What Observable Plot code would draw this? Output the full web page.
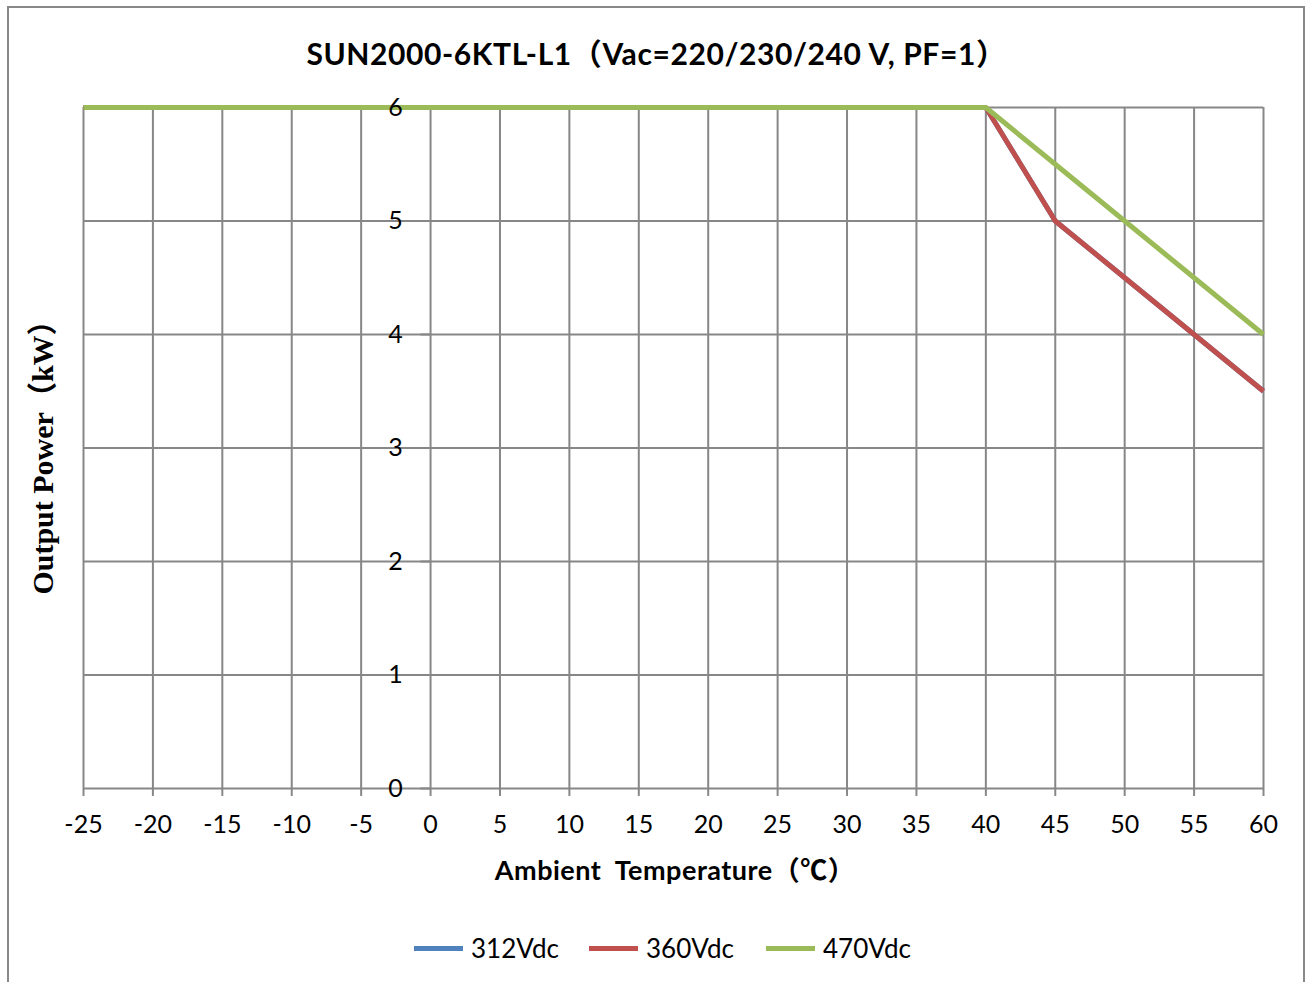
<!DOCTYPE html>
<html>
<head>
<meta charset="utf-8">
<script src="https://cdn.jsdelivr.net/npm/d3@7"></script>
<script src="https://cdn.jsdelivr.net/npm/@observablehq/plot@0.6"></script>
<style>
  html, body { margin: 0; padding: 0; background: #fff; overflow: hidden; }
  #wrap { position: relative; width: 1309px; height: 982px; overflow: hidden; font-family: Lato, "Noto Sans CJK SC", sans-serif; }
  #border { position: absolute; left: 7px; top: 6px; width: 1298px; height: 1000px; border: 2px solid #898989; box-sizing: border-box; }
  #chart { position: absolute; left: 0; top: 0; }
  #title { position: absolute; left: 0; width: 1313px; top: 33px; text-align: center; font-weight: bold; font-size: 30px; letter-spacing: 0.6px; line-height: 40px; color: #000; white-space: nowrap; }
  #xtitle { position: absolute; left: 0; width: 1350px; top: 853px; text-align: center; font-weight: bold; font-size: 27px; letter-spacing: 0.5px; line-height: 34px; color: #000; white-space: pre; }
  #ytitle { position: absolute; left: 40px; top: 450px; transform: translate(-50%, -50%) rotate(-90deg); font-family: "Liberation Serif", "Noto Sans CJK SC", serif; font-weight: bold; font-size: 30px; white-space: pre; color: #000; }
  #legend { position: absolute; top: 930px; left: 0; width: 1309px; height: 36px; font-size: 26px; color: #000; white-space: nowrap; }
  .item { position: absolute; top: 0; display: flex; align-items: center; height: 36px; }
  .sw { width: 49px; height: 5px; margin-right: 8px; }
</style>
</head>
<body>
<div id="wrap">
  <div id="border"></div>
  <div id="title"></div>
  <div id="chart"></div>
  <div id="xtitle"></div>
  <div id="ytitle"></div>
  <div id="legend"></div>
</div>
<script>
const titleText = "SUN2000-6KTL-L1（Vac=220/230/240 V, PF=1）";
const xTitle = "Ambient  Temperature（℃）";
const yTitle = "Output Power（kW）";

const temperatures = [-25, -20, -15, -10, -5, 0, 5, 10, 15, 20, 25, 30, 35, 40, 45, 50, 55, 60];
const series = ["312Vdc", "360Vdc", "470Vdc"];
const colors = ["#4F81BD", "#C0504D", "#9BBB59"];
const power312 = [6, 6, 6, 6, 6, 6, 6, 6, 6, 6, 6, 6, 6, 6, 5, 4.5, 4, 3.5];
const power360 = [6, 6, 6, 6, 6, 6, 6, 6, 6, 6, 6, 6, 6, 6, 5, 4.5, 4, 3.5];
const power470 = [6, 6, 6, 6, 6, 6, 6, 6, 6, 6, 6, 6, 6, 6, 5.5, 5, 4.5, 4];
const xTicks = [-25, -20, -15, -10, -5, 0, 5, 10, 15, 20, 25, 30, 35, 40, 45, 50, 55, 60];
const yTicks = [0, 1, 2, 3, 4, 5, 6];

const allPower = [power312, power360, power470];
const rows = [];
series.forEach((s, i) => temperatures.forEach((t, j) => rows.push({series: s, t, p: allPower[i][j]})));

const grid = "#878787";
const font = "Lato, 'Noto Sans CJK SC', sans-serif";

const chart = Plot.plot({
  width: 1309,
  height: 982,
  marginLeft: 83,
  marginRight: 46,
  marginTop: 107,
  marginBottom: 194,
  style: {fontFamily: font, background: "transparent", overflow: "visible"},
  x: {domain: [-25, 60], axis: null},
  y: {domain: [0, 6], axis: null},
  color: {domain: series, range: colors},
  marks: [
    Plot.ruleX(xTicks, {x: d => d, stroke: grid, strokeWidth: 2, strokeOpacity: 1}),
    Plot.ruleY(yTicks, {y: d => d, stroke: grid, strokeWidth: 2, strokeOpacity: 1}),
    Plot.ruleX(xTicks, {x: d => d, y1: 0, y2: -0.07, stroke: grid, strokeWidth: 2}),
    Plot.ruleY(yTicks, {y: d => d, x1: -0.7, x2: 0, stroke: grid, strokeWidth: 2}),
    Plot.line(rows, {x: "t", y: "p", z: "series", stroke: "series", strokeWidth: 5, strokeLinejoin: "miter", strokeLinecap: "butt"}),
    Plot.text(xTicks, {x: d => d, y: 0, dy: 36, text: d => String(d), fontSize: 25, fill: "#000"}),
    Plot.text(yTicks, {x: 0, y: d => d, dx: -35, text: d => String(d), fontSize: 25, fill: "#000"})
  ]
});
document.getElementById("chart").appendChild(chart);

document.getElementById("title").textContent = titleText;
document.getElementById("xtitle").textContent = xTitle;
document.getElementById("ytitle").textContent = yTitle;
const legend = document.getElementById("legend");
const legendLeft = [414, 589, 766];
series.forEach((s, i) => {
  const it = document.createElement("div");
  it.className = "item";
  it.style.left = legendLeft[i] + "px";
  const sw = document.createElement("div");
  sw.className = "sw";
  sw.style.background = colors[i];
  const lb = document.createElement("span");
  lb.textContent = s;
  it.appendChild(sw); it.appendChild(lb);
  legend.appendChild(it);
});
</script>
</body>
</html>
